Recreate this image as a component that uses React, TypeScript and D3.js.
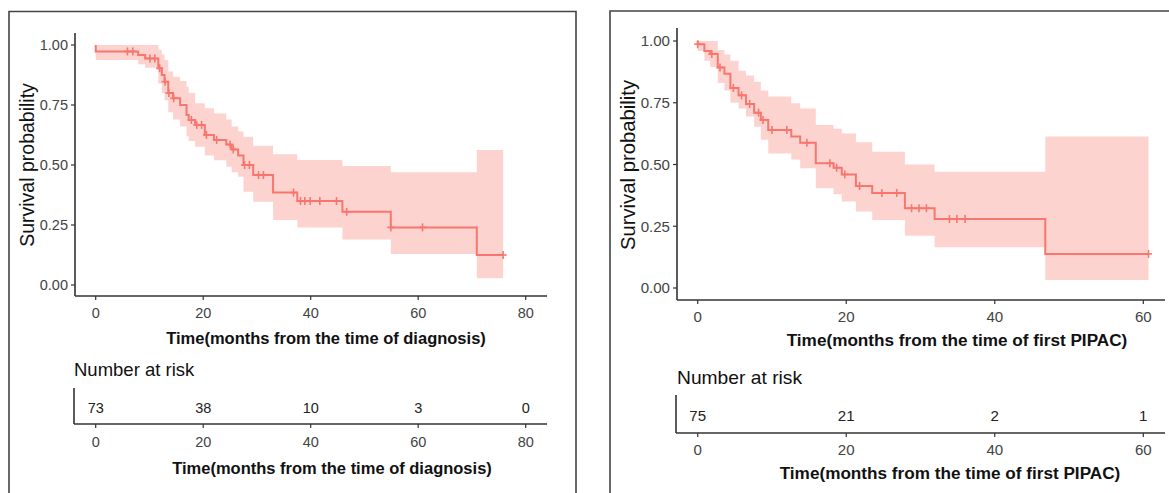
import React from "react";
import * as d3 from "d3";

// ---------- Left panel data (time from diagnosis) ----------
const LEFT_EVENT_TIMES = [0, 7.9, 9.2, 11.65, 12.3, 12.8, 13.5, 14.4, 15.7, 16.9, 17.3, 18.5, 20.3, 22.0, 24.3, 25.3, 26.5, 27.5, 29.3, 33.0, 37.5, 45.9, 54.9, 70.9];
const LEFT_SURV = [0.973, 0.958, 0.944, 0.903, 0.875, 0.847, 0.8, 0.778, 0.75, 0.708, 0.688, 0.667, 0.625, 0.604, 0.585, 0.565, 0.54, 0.5, 0.458, 0.385, 0.35, 0.305, 0.24, 0.125];
const LEFT_LOWER = [0.937, 0.92, 0.905, 0.84, 0.8, 0.77, 0.72, 0.69, 0.66, 0.62, 0.6, 0.576, 0.54, 0.52, 0.493, 0.47, 0.451, 0.389, 0.347, 0.271, 0.24, 0.19, 0.129, 0.028];
const LEFT_UPPER = [1.0, 1.0, 1.0, 0.979, 0.96, 0.9375, 0.89, 0.868, 0.85, 0.826, 0.8, 0.757, 0.736, 0.715, 0.69, 0.66, 0.64, 0.618, 0.58, 0.545, 0.521, 0.496, 0.47, 0.5625];
const LEFT_CENSOR = [5.9, 6.9, 10.1, 11.0, 11.9, 12.9, 13.6, 14.5, 17.8, 18.8, 19.7, 20.6, 22.5, 25.0, 25.6, 27.7, 28.6, 30.3, 31.2, 36.8, 38.1, 38.9, 39.9, 41.7, 44.8, 46.7, 54.9, 60.8, 75.8];
const LEFT_END = 75.8;
const LEFT_TICKS = [0, 20, 40, 60, 80];
const LEFT_RISK = [73, 38, 10, 3, 0];
const LEFT_XLABEL = "Time(months from the time of diagnosis)";

// ---------- Right panel data (time from first PIPAC) ----------
const RIGHT_EVENT_TIMES = [0, 0.9, 1.7, 2.7, 3.6, 4.4, 5.5, 6.5, 7.6, 8.5, 9.5, 12.6, 13.8, 15.9, 18.3, 19.4, 21.3, 23.5, 27.9, 31.9, 46.8];
const RIGHT_SURV = [0.987, 0.96, 0.947, 0.893, 0.867, 0.81, 0.78, 0.745, 0.71, 0.68, 0.64, 0.613, 0.588, 0.505, 0.487, 0.46, 0.413, 0.385, 0.323, 0.279, 0.138];
const RIGHT_LOWER = [0.96, 0.92, 0.895, 0.83, 0.8, 0.75, 0.727, 0.694, 0.653, 0.6, 0.545, 0.52, 0.485, 0.404, 0.38, 0.35, 0.31, 0.275, 0.212, 0.165, 0.032];
const RIGHT_UPPER = [1.0, 1.0, 1.0, 0.964, 0.945, 0.92, 0.88, 0.86, 0.835, 0.8, 0.775, 0.748, 0.727, 0.66, 0.645, 0.626, 0.59, 0.552, 0.5, 0.471, 0.613];
const RIGHT_CENSOR = [0, 1.9, 3.0, 4.8, 5.9, 7.0, 8.2, 8.8, 10.0, 12.0, 14.7, 17.8, 18.7, 19.8, 21.8, 24.8, 26.8, 28.8, 29.8, 30.8, 33.9, 34.9, 36.0, 60.7];
const RIGHT_END = 60.7;
const RIGHT_TICKS = [0, 20, 40, 60];
const RIGHT_RISK = [75, 21, 2, 1];
const RIGHT_XLABEL = "Time(months from the time of first PIPAC)";

const Y_TICKS = [0, 0.25, 0.5, 0.75, 1];

const FONT = "'Liberation Sans', Arial, sans-serif";
const LINE_COLOR = "#F8766D";
const BAND_COLOR = "#F8766D";
const AXIS_COLOR = "#333333";
const TICK_TEXT = "#444444";

type PanelProps = {
  times: number[];
  surv: number[];
  lower: number[];
  upper: number[];
  censor: number[];
  end: number;
  ticks: number[];
  risk: number[];
  xlabel: string;
  layout: any;
};

function Panel({ times, surv, lower, upper, censor, end, ticks, risk, xlabel, layout: L }: PanelProps) {
  const x = d3.scaleLinear().domain(L.xDomain).range(L.xRange);
  const y = d3.scaleLinear().domain([0, 1]).range(L.yRange);
  const k = L.fontScale;

  const bandData = times.map((t, i) => ({ t, lo: lower[i], hi: upper[i] }));
  bandData.push({ t: end, lo: lower[lower.length - 1], hi: upper[upper.length - 1] });
  const area = d3
    .area<any>()
    .x((d) => x(d.t))
    .y0((d) => y(d.lo))
    .y1((d) => y(d.hi))
    .curve(d3.curveStepAfter);

  const lineData = [{ t: 0, s: 1 }, ...times.map((t, i) => ({ t, s: surv[i] }))];
  lineData.push({ t: end, s: surv[surv.length - 1] });
  const line = d3
    .line<any>()
    .x((d) => x(d.t))
    .y((d) => y(d.s))
    .curve(d3.curveStepAfter);

  const survAt = (t: number) => {
    let s = 1;
    for (let i = 0; i < times.length; i++) if (times[i] <= t) s = surv[i];
    return s;
  };

  const fmt = d3.format(".2f");
  const tickFs = 14.5 * k;
  const titleFs = 16.5 * k;
  const headFs = 18.5 * k;

  return (
    <g>
      <path d={L.frame} fill="none" stroke="#444" strokeWidth={1.6} />
      <path d={area(bandData) || ""} fill={BAND_COLOR} fillOpacity={0.32} stroke="none" />
      <path d={line(lineData) || ""} fill="none" stroke={LINE_COLOR} strokeWidth={2} />
      {censor.map((t, i) => {
        const cx = x(t);
        const cy = y(survAt(t));
        return (
          <g key={i} stroke={LINE_COLOR} strokeWidth={1.6}>
            <line x1={cx - 3.5} x2={cx + 3.5} y1={cy} y2={cy} />
            <line x1={cx} x2={cx} y1={cy - 4} y2={cy + 4} />
          </g>
        );
      })}
      {/* y axis */}
      <line x1={L.yAxisX} x2={L.yAxisX} y1={L.yAxisTop} y2={L.xAxisY} stroke={AXIS_COLOR} strokeWidth={1.6} />
      {Y_TICKS.map((v) => (
        <g key={v}>
          <line x1={L.yAxisX - 4} x2={L.yAxisX} y1={y(v)} y2={y(v)} stroke={AXIS_COLOR} strokeWidth={1.2} />
          <text x={L.yAxisX - 7} y={y(v)} dy="0.35em" textAnchor="end" fontSize={tickFs} fill={TICK_TEXT} fontFamily={FONT}>
            {fmt(v)}
          </text>
        </g>
      ))}
      <text
        transform={`translate(${L.yTitleX},${L.yTitleY}) rotate(-90)`}
        textAnchor="middle"
        dy="0.35em"
        fontSize={19.5 * k}
        fill="#111"
        fontFamily={FONT}
      >
        Survival probability
      </text>
      {/* x axis */}
      <line x1={L.yAxisX} x2={L.xAxisEnd} y1={L.xAxisY} y2={L.xAxisY} stroke={AXIS_COLOR} strokeWidth={1.6} />
      {ticks.map((v) => (
        <g key={v}>
          <line x1={x(v)} x2={x(v)} y1={L.xAxisY} y2={L.xAxisY + 4} stroke={AXIS_COLOR} strokeWidth={1.2} />
          <text x={x(v)} y={L.xTickY} dy="0.35em" textAnchor="middle" fontSize={tickFs} fill={TICK_TEXT} fontFamily={FONT}>
            {v}
          </text>
        </g>
      ))}
      <text x={L.xTitleX} y={L.xTitleY} dy="0.35em" textAnchor="middle" fontSize={titleFs} fontWeight="bold" fill="#111" fontFamily={FONT}>
        {xlabel}
      </text>
      {/* risk table */}
      <text x={L.riskHeadX} y={L.riskHeadY} dy="0.35em" fontSize={headFs} fill="#111" fontFamily={FONT}>
        Number at risk
      </text>
      <line x1={L.yAxisX - 1} x2={L.yAxisX - 1} y1={L.riskTop} y2={L.riskAxisY} stroke={AXIS_COLOR} strokeWidth={1.6} />
      <line x1={L.yAxisX - 1} x2={L.xAxisEnd} y1={L.riskAxisY} y2={L.riskAxisY} stroke={AXIS_COLOR} strokeWidth={1.6} />
      {ticks.map((v, i) => (
        <g key={v}>
          <text x={x(v)} y={L.riskNumY} dy="0.35em" textAnchor="middle" fontSize={tickFs} fill="#222" fontFamily={FONT}>
            {risk[i]}
          </text>
          <line x1={x(v)} x2={x(v)} y1={L.riskAxisY} y2={L.riskAxisY + 4} stroke={AXIS_COLOR} strokeWidth={1.2} />
          <text x={x(v)} y={L.riskTickY} dy="0.35em" textAnchor="middle" fontSize={tickFs} fill={TICK_TEXT} fontFamily={FONT}>
            {v}
          </text>
        </g>
      ))}
      <text x={L.riskTitleX} y={L.riskTitleY} dy="0.35em" textAnchor="middle" fontSize={titleFs} fontWeight="bold" fill="#111" fontFamily={FONT}>
        {xlabel}
      </text>
    </g>
  );
}

const LEFT_LAYOUT = {
  frame: "M9,500 L9,11.5 L576,11.5 L576,500",
  fontScale: 1,
  xDomain: [0, 80],
  xRange: [95.7, 525.7],
  yRange: [285, 45],
  yAxisX: 75,
  yAxisTop: 33,
  xAxisY: 296,
  xAxisEnd: 547,
  xTickY: 313,
  xTitleX: 326,
  xTitleY: 338,
  yTitleX: 27,
  yTitleY: 165,
  riskHeadX: 74,
  riskHeadY: 370,
  riskTop: 388,
  riskAxisY: 424,
  riskNumY: 408,
  riskTickY: 442,
  riskTitleX: 332,
  riskTitleY: 468,
};

const RIGHT_LAYOUT = {
  frame: "M610,500 L610,11 L1180,11",
  fontScale: 1.04,
  xDomain: [0, 60],
  xRange: [697.7, 1143.3],
  yRange: [288, 41],
  yAxisX: 677,
  yAxisTop: 28,
  xAxisY: 300,
  xAxisEnd: 1165,
  xTickY: 317,
  xTitleX: 957,
  xTitleY: 340,
  yTitleX: 628,
  yTitleY: 165,
  riskHeadX: 677,
  riskHeadY: 377,
  riskTop: 395,
  riskAxisY: 433,
  riskNumY: 416,
  riskTickY: 450,
  riskTitleX: 950,
  riskTitleY: 473,
};

export default function App() {
  return (
    <div style={{ position: "fixed", left: 0, top: 0, width: 1169, height: 493, background: "#fff" }}>
      <svg width={1169} height={493} style={{ display: "block" }}>
        <rect width={1169} height={493} fill="#fff" />
        <Panel
          times={LEFT_EVENT_TIMES}
          surv={LEFT_SURV}
          lower={LEFT_LOWER}
          upper={LEFT_UPPER}
          censor={LEFT_CENSOR}
          end={LEFT_END}
          ticks={LEFT_TICKS}
          risk={LEFT_RISK}
          xlabel={LEFT_XLABEL}
          layout={LEFT_LAYOUT}
        />
        <Panel
          times={RIGHT_EVENT_TIMES}
          surv={RIGHT_SURV}
          lower={RIGHT_LOWER}
          upper={RIGHT_UPPER}
          censor={RIGHT_CENSOR}
          end={RIGHT_END}
          ticks={RIGHT_TICKS}
          risk={RIGHT_RISK}
          xlabel={RIGHT_XLABEL}
          layout={RIGHT_LAYOUT}
        />
      </svg>
    </div>
  );
}
